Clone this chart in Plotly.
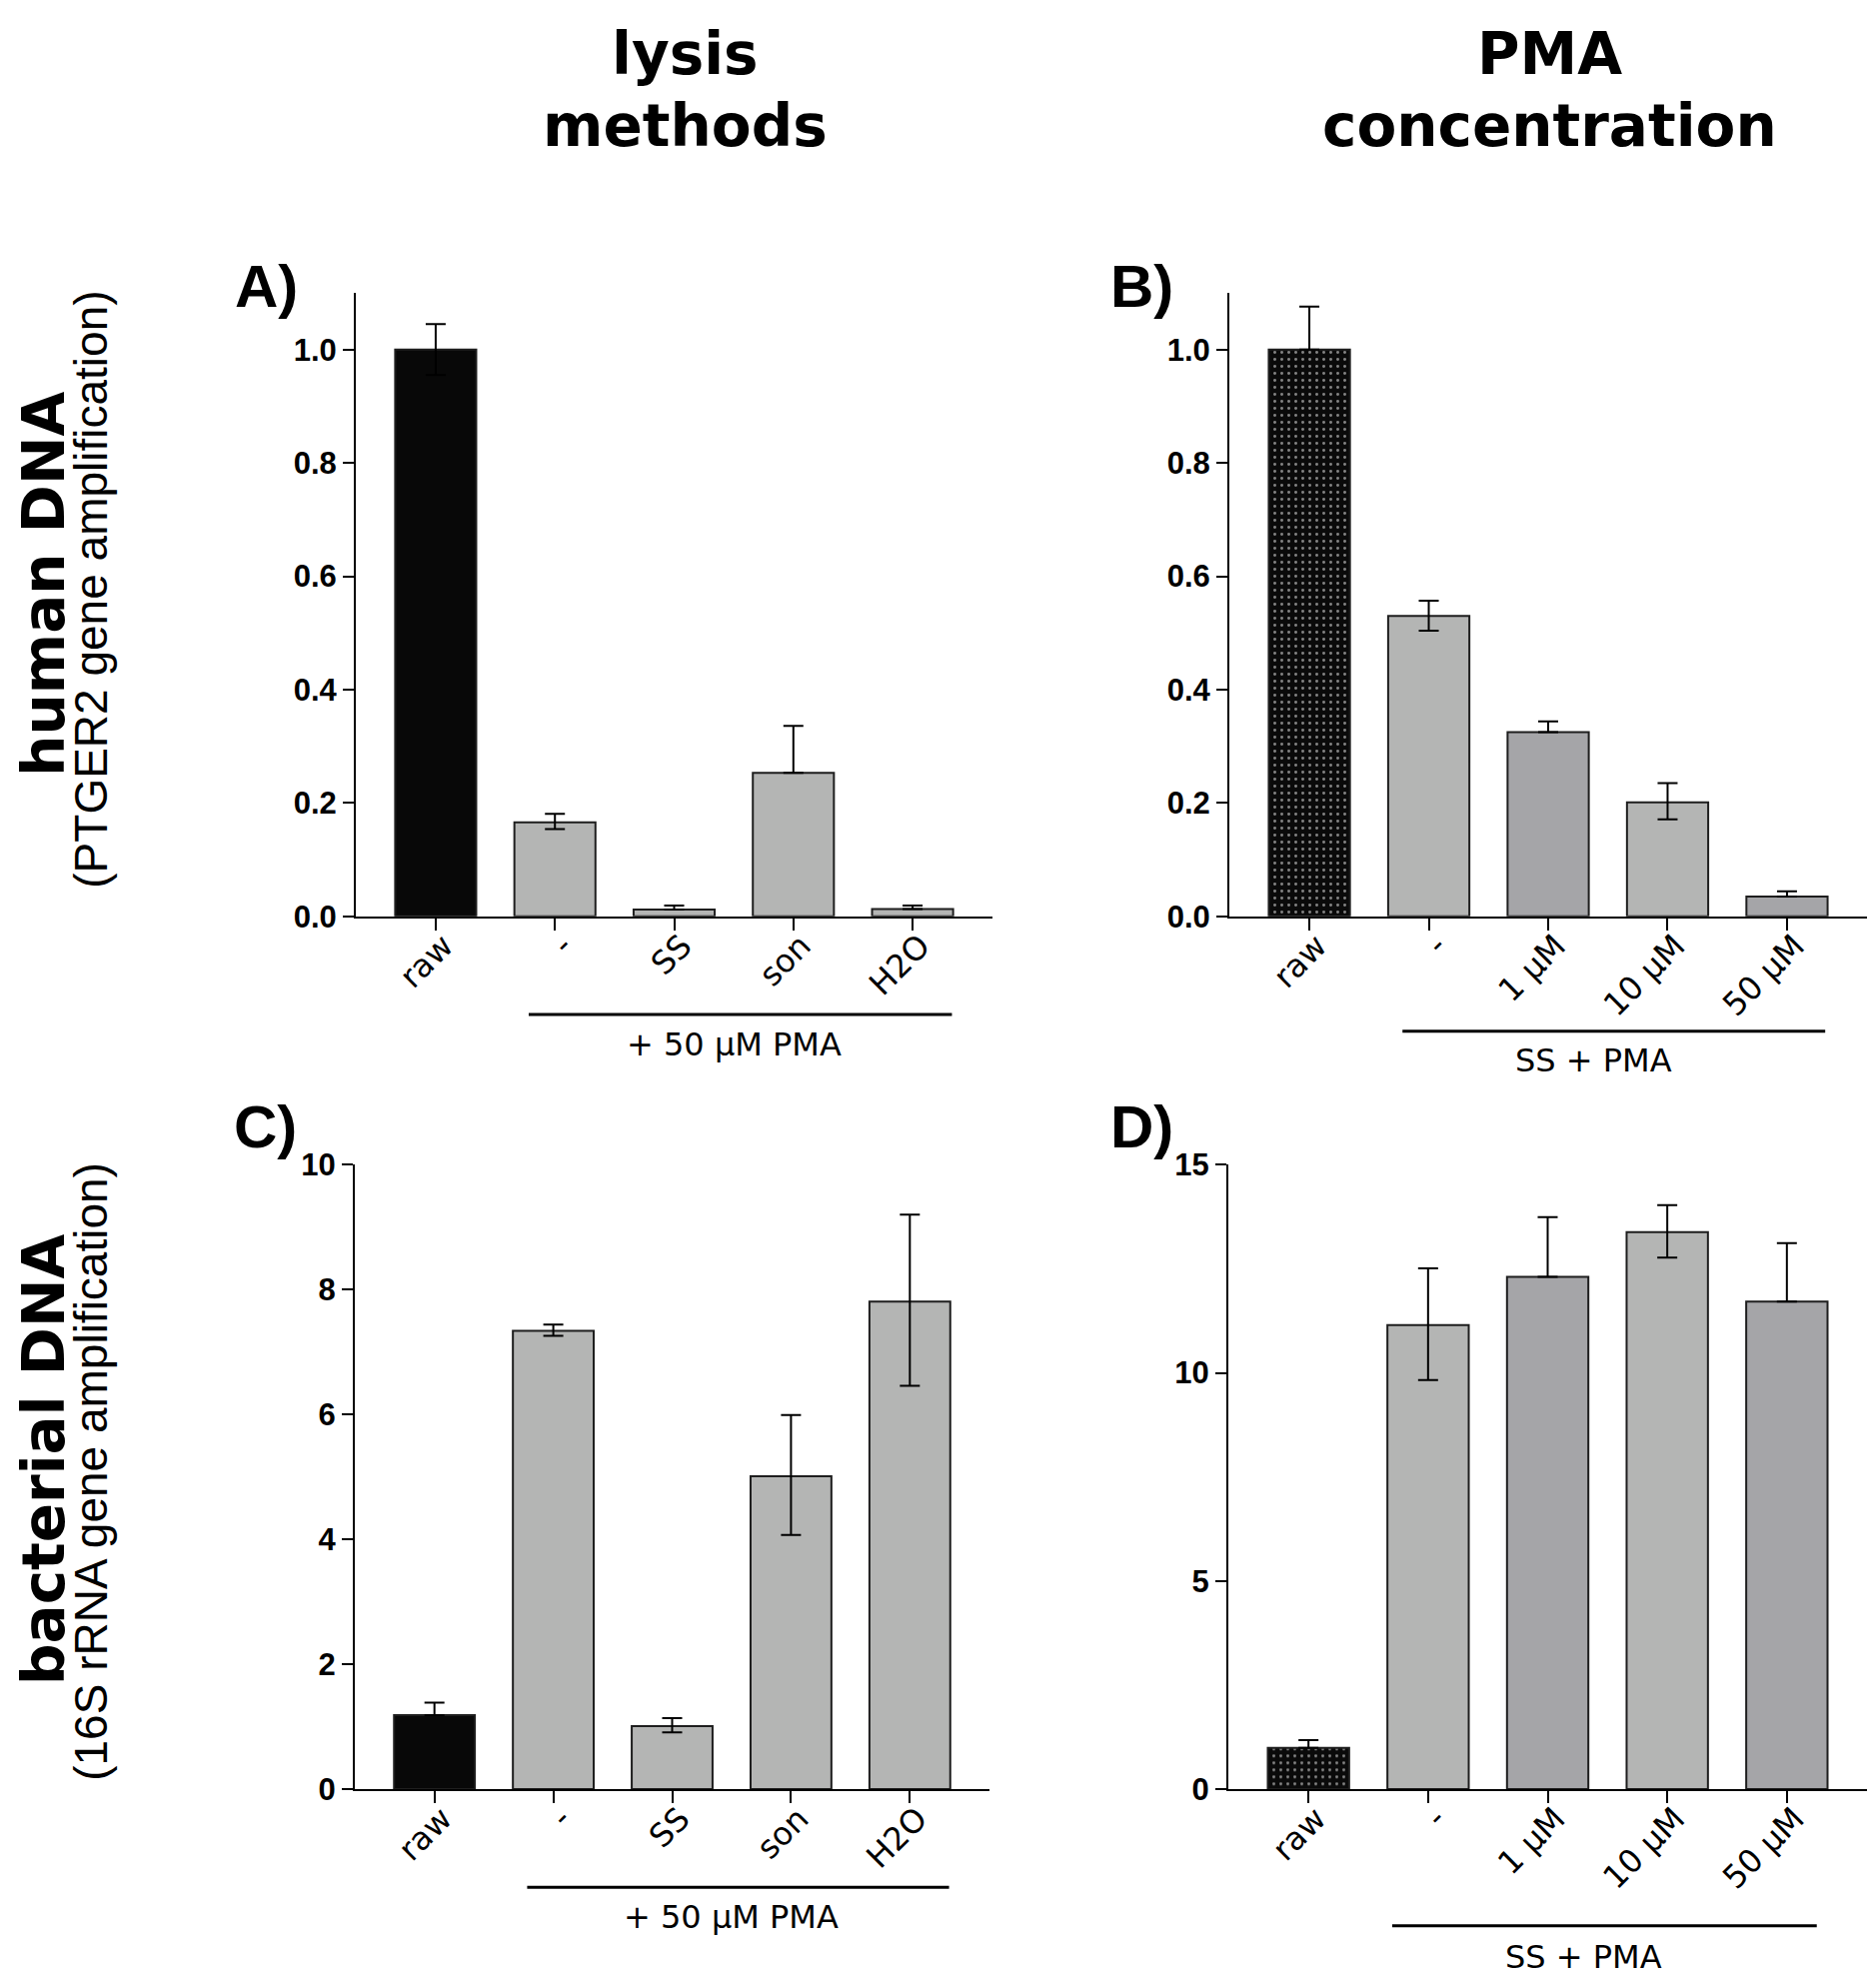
import plotly.graph_objects as go

W, H = 1877, 1980

# ---------------- data ----------------
lysis_cats = ["raw", "-", "SS", "son", "H2O"]
pma_cats = ["raw", "-", "1 µM", "10 µM", "50 µM"]

A_vals = [1.0, 0.166, 0.012, 0.253, 0.013]
A_err_up = [0.045, 0.015, 0.007, 0.083, 0.006]
A_err_dn = [0.045, 0.012, 0.0, 0.0, 0.0]

B_vals = [1.0, 0.53, 0.325, 0.201, 0.035]
B_err_up = [0.076, 0.027, 0.019, 0.034, 0.009]
B_err_dn = [0.0, 0.026, 0.0, 0.030, 0.0]

C_vals = [1.185, 7.34, 1.01, 5.01, 7.81]
C_err_up = [0.20, 0.10, 0.13, 0.98, 1.39]
C_err_dn = [0.0, 0.08, 0.10, 0.94, 1.35]

D_vals = [0.99, 11.15, 12.31, 13.38, 11.71]
D_err_up = [0.19, 1.36, 1.43, 0.65, 1.41]
D_err_dn = [0.0, 1.32, 0.0, 0.61, 0.0]

A_ticks = [0.0, 0.2, 0.4, 0.6, 0.8, 1.0]
C_ticks = [0, 2, 4, 6, 8, 10]
D_ticks = [0, 5, 10, 15]

col_titles = [["lysis", "methods"], ["PMA", "concentration"]]
row_titles = [("human DNA", "(PTGER2 gene amplification)"),
              ("bacterial DNA", "(16S rRNA gene amplification)")]
panel_letters = ["A)", "B)", "C)", "D)"]
bracket_labels = ["+ 50 µM PMA", "SS + PMA", "+ 50 µM PMA", "SS + PMA"]

# ---------------- styles ----------------
BLACK = "#080808"
LIGHT = "#b4b5b4"
DARK = "#a5a5a8"
lysis_colors = [BLACK, LIGHT, LIGHT, LIGHT, LIGHT]
pma_colors = ["#0a0a0a", LIGHT, DARK, LIGHT, DARK]
pma_pattern = [".", "", "", "", ""]

def px(x):
    return x / W

def py(y):
    return 1 - y / H

fig = go.Figure()

panels = [
    dict(cats=lysis_cats, vals=A_vals, up=A_err_up, dn=A_err_dn, colors=lysis_colors, pattern=None,
         xd=(356, 993), yd=(916, 281), yr=[0, 1.1], ticks=A_ticks, fmt=".1f",
         bracket=(0.78, 4.33), bline=1016, btext=1046, btx=2.5, letter=(266, 274)),
    dict(cats=pma_cats, vals=B_vals, up=B_err_up, dn=B_err_dn, colors=pma_colors, pattern=pma_pattern,
         xd=(1230, 1868), yd=(916, 281), yr=[0, 1.1], ticks=A_ticks, fmt=".1f",
         bracket=(0.78, 4.32), bline=1033, btext=1063, btx=2.38, letter=(1142, 274)),
    dict(cats=lysis_cats, vals=C_vals, up=C_err_up, dn=C_err_dn, colors=lysis_colors, pattern=None,
         xd=(355, 990), yd=(1805, 1169), yr=[0, 10], ticks=C_ticks, fmt="d",
         bracket=(0.78, 4.33), bline=1905, btext=1935, btx=2.5, letter=(265, 1130)),
    dict(cats=pma_cats, vals=D_vals, up=D_err_up, dn=D_err_dn, colors=pma_colors, pattern=pma_pattern,
         xd=(1229, 1868), yd=(1805, 1169), yr=[0, 15], ticks=D_ticks, fmt="d",
         bracket=(0.70, 4.25), bline=1944, btext=1976, btx=2.3, letter=(1142, 1130)),
]

annotations = []
shapes = []

for i, p in enumerate(panels):
    n = i + 1
    xa = "x" if n == 1 else f"x{n}"
    ya = "y" if n == 1 else f"y{n}"
    marker = dict(color=p["colors"], line=dict(color="#1e1e1e", width=2))
    if p["pattern"] is not None:
        marker["pattern"] = dict(shape=p["pattern"], fgcolor="#7a7a7a", size=7, solidity=0.14)
    fig.add_trace(go.Bar(
        x=p["cats"], y=p["vals"], width=0.68, marker=marker,
        error_y=dict(type="data", array=p["up"], arrayminus=p["dn"], symmetric=False,
                     color="black", thickness=2, width=10),
        xaxis=xa, yaxis=ya, showlegend=False))

    axis_common = dict(showline=True, linecolor="black", linewidth=2, ticks="outside",
                       tickcolor="black", tickwidth=2, showgrid=False, zeroline=False)
    fig.update_layout({
        ("xaxis" if n == 1 else f"xaxis{n}"): dict(
            domain=[px(p["xd"][0]), px(p["xd"][1])], anchor=ya, type="category",
            range=[-0.67, 4.67], ticklen=12, tickangle=-45,
            ticklabelstandoff=-16, ticklabelshift=8,
            tickfont=dict(family="DejaVu Sans", size=32, color="black"), **axis_common),
        ("yaxis" if n == 1 else f"yaxis{n}"): dict(
            domain=[py(p["yd"][0]), py(p["yd"][1])], anchor=xa, range=p["yr"],
            tickvals=p["ticks"], tickformat=p["fmt"], ticklen=11,
            tickfont=dict(family="Liberation Sans", size=31, color="black", weight="bold"),
            **axis_common),
    })

    # bracket line and label
    shapes.append(dict(type="line", xref=xa, yref="paper",
                       x0=p["bracket"][0], x1=p["bracket"][1],
                       y0=py(p["bline"]), y1=py(p["bline"]),
                       line=dict(color="black", width=3)))
    annotations.append(dict(text=bracket_labels[i], xref=xa, yref="paper",
                            x=p["btx"], y=py(p["btext"]), showarrow=False,
                            xanchor="center", yanchor="middle",
                            font=dict(family="DejaVu Sans", size=32, color="black")))
    # panel letter
    annotations.append(dict(text=panel_letters[i], xref="paper", yref="paper",
                            x=px(p["letter"][0]), y=py(p["letter"][1]), showarrow=False,
                            xanchor="center", yanchor="middle",
                            font=dict(family="Liberation Sans", size=60, color="black",
                                      weight="bold")))

# column titles
col_x = [685, 1550]
line_y = [38, 111]
for cx, lines in zip(col_x, col_titles):
    for ly, t in zip(line_y, lines):
        annotations.append(dict(text=t, xref="paper", yref="paper", x=px(cx), y=py(ly),
                                showarrow=False, xanchor="center", yanchor="middle",
                                font=dict(family="DejaVu Sans", size=58, color="black",
                                          weight="bold")))

# row titles
row_y = [(578, 583), (1470, 1482)]
for (main, sub), (ym, ys) in zip(row_titles, row_y):
    annotations.append(dict(text=main, xref="paper", yref="paper", x=px(44), y=py(ym),
                            showarrow=False, textangle=-90, xanchor="center", yanchor="middle",
                            font=dict(family="DejaVu Sans", size=58, color="black",
                                      weight="bold")))
    annotations.append(dict(text=sub, xref="paper", yref="paper", x=px(91), y=py(ys),
                            showarrow=False, textangle=-90, xanchor="center", yanchor="middle",
                            font=dict(family="Liberation Sans", size=46, color="black")))

fig.update_layout(width=W, height=H, margin=dict(l=0, r=0, t=0, b=0),
                  paper_bgcolor="white", plot_bgcolor="white",
                  annotations=annotations, shapes=shapes, bargap=0.32)

fig.write_html("out.html", config={"displayModeBar": False},
               post_script="document.body.style.margin='0';document.body.style.overflow='hidden';")
